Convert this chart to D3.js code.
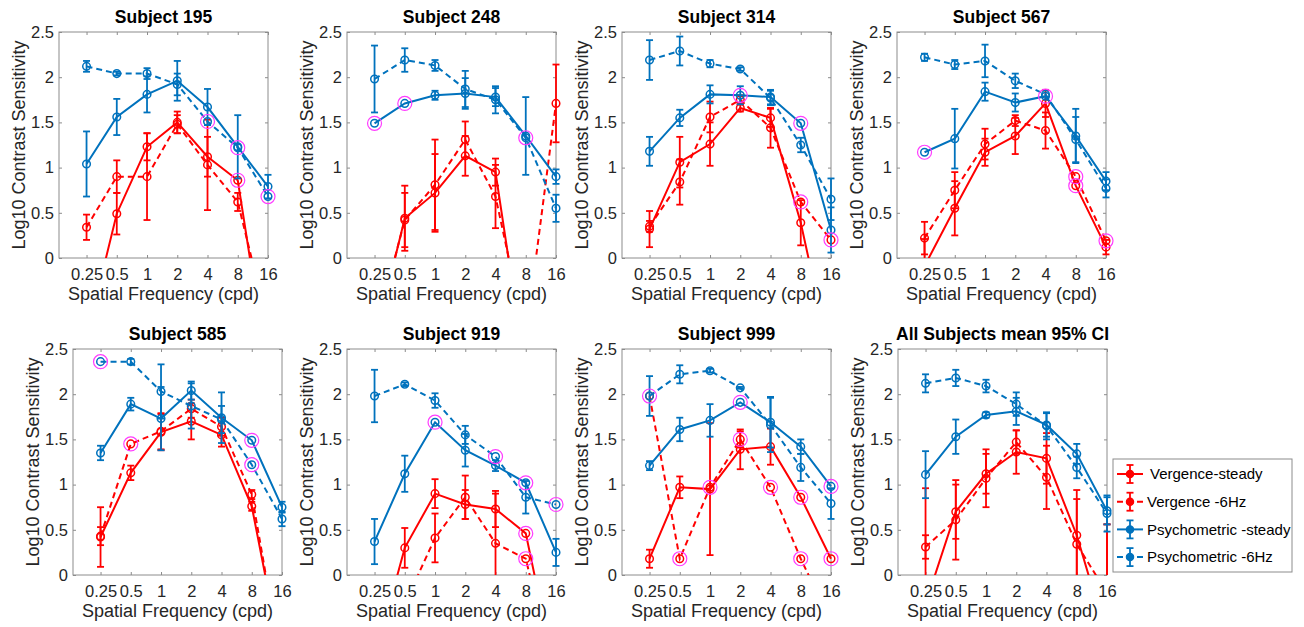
<!DOCTYPE html>
<html>
<head>
<meta charset="utf-8">
<script src="https://cdn.jsdelivr.net/npm/d3@7"></script>
<style>
  body { margin: 0; background: #fff; }
  svg { display: block; font-family: "Liberation Sans", Arial, sans-serif; }
</style>
</head>
<body>
<svg id="chart" width="1304" height="627"></svg>
<script>
// spatial frequencies (cpd) and panel titles
var freqs = [0.25, 0.5, 1, 2, 4, 8, 16];
var yTicks = [0, 0.5, 1, 1.5, 2, 2.5];
var titles = ["Subject 195", "Subject 248", "Subject 314", "Subject 567",
              "Subject 585", "Subject 919", "Subject 999", "All Subjects mean 95% CI"];
var seriesNames = ["Vergence-steady", "Vergence -6Hz", "Psychometric -steady", "Psychometric -6Hz"];

// one row per panel, one value per frequency
var vergSteady = [
  [-0.88, 0.49, 1.23, 1.50, 1.12, 0.86, -1.28],
  [-0.93, 0.44, 0.72, 1.13, 0.95, -1.27, -1.5],
  [0.32, 1.06, 1.26, 1.66, 1.55, 0.39, -1.14],
  [-0.09, 0.55, 1.17, 1.35, 1.71, 0.80, 0.12],
  [0.42, 1.13, 1.58, 1.70, 1.55, 0.76, -0.95],
  [-0.93, 0.30, 0.90, 0.78, 0.73, 0.46, -1.13],
  [0.18, 0.97, 0.95, 1.39, 1.42, 0.86, 0.18],
  [-0.32, 0.70, 1.12, 1.36, 1.29, 0.44, -0.69]
];
var vergSteadyErr = [
  [0.3, 0.23, 0.15, 0.12, 0.22, 0, 0.3],
  [0.3, 0.36, 0.43, 0.22, 0.15, 0.3, 0.3],
  [0.2, 0.28, 0.24, 0.04, 0.1, 0.25, 0.3],
  [0.3, 0.3, 0.15, 0.2, 0.15, 0, 0.08],
  [0.33, 0.08, 0.2, 0.2, 0.13, 0.05, 0.3],
  [0.3, 0.22, 0.16, 0.16, 0.2, 0, 0.3],
  [0.1, 0.12, 0.73, 0.22, 0.2, 0, 0],
  [1.28, 0.3, 0.22, 0.24, 0.28, 0.5, 1.25]
];
var verg6 = [
  [0.34, 0.90, 0.90, 1.48, 1.03, 0.62, -0.74],
  [-0.85, 0.42, 0.81, 1.31, 0.68, -0.87, 1.71],
  [0.35, 0.84, 1.56, 1.75, 1.44, 0.62, 0.20],
  [0.22, 0.75, 1.26, 1.52, 1.41, 0.90, 0.19],
  [0.43, 1.45, 1.59, 1.84, 1.64, 0.89, -1.02],
  [-0.8, -0.32, 0.41, 0.86, 0.35, 0.18, -1.2],
  [1.98, 0.18, 0.97, 1.50, 0.97, 0.18, -0.52],
  [0.31, 0.61, 1.07, 1.47, 1.08, 0.34, -0.20]
];
var verg6Err = [
  [0.14, 0.18, 0.48, 0.1, 0.5, 0.1, 0.3],
  [0.3, 0.3, 0.5, 0.2, 0.35, 0.3, 0.43],
  [0.06, 0.25, 0.17, 0.05, 0.22, 0, 0],
  [0.18, 0.2, 0.17, 0.06, 0.2, 0, 0],
  [0.1, 0, 0.2, 0.1, 0.1, 0.05, 0.3],
  [0.3, 0.3, 0.27, 0.24, 0.55, 0, 0.3],
  [0, 0, 0, 0.09, 0, 0, 0.3],
  [0.13, 0.44, 0.32, 0.13, 0.35, 0.5, 0.76]
];
var psySteady = [
  [1.04, 1.56, 1.81, 1.96, 1.67, 1.23, 0.79],
  [1.49, 1.71, 1.80, 1.82, 1.78, 1.35, 0.90],
  [1.18, 1.55, 1.81, 1.80, 1.78, 1.49, 0.31],
  [1.17, 1.32, 1.84, 1.72, 1.79, 1.35, 0.85],
  [1.35, 1.89, 1.73, 2.04, 1.74, 1.49, 0.75],
  [0.37, 1.12, 1.69, 1.38, 1.21, 1.02, 0.25],
  [1.21, 1.61, 1.71, 1.91, 1.69, 1.42, 0.98],
  [1.11, 1.53, 1.77, 1.81, 1.66, 1.34, 0.71]
];
var psySteadyErr = [
  [0.36, 0.2, 0.2, 0.22, 0.2, 0.35, 0.13],
  [0, 0, 0.05, 0.17, 0.1, 0.43, 0.08],
  [0.16, 0.09, 0.1, 0.1, 0.08, 0, 0.25],
  [0, 0.33, 0.1, 0.1, 0, 0.3, 0.1],
  [0.08, 0.07, 0.35, 0.1, 0.28, 0, 0.06],
  [0.25, 0.2, 0, 0.18, 0.06, 0, 0.15],
  [0.05, 0.13, 0.18, 0, 0.28, 0.08, 0],
  [0.26, 0.19, 0.03, 0.15, 0.13, 0.11, 0.15]
];
var psy6 = [
  [2.12, 2.04, 2.04, 1.92, 1.51, 1.22, 0.68],
  [1.98, 2.19, 2.13, 1.87, 1.75, 1.33, 0.55],
  [2.19, 2.29, 2.15, 2.09, 1.77, 1.25, 0.65],
  [2.22, 2.14, 2.18, 1.96, 1.81, 1.31, 0.77],
  [2.36, 2.36, 2.03, 1.87, 1.72, 1.22, 0.62],
  [1.98, 2.11, 1.93, 1.55, 1.31, 0.86, 0.78],
  [1.98, 2.22, 2.26, 2.07, 1.66, 1.19, 0.79],
  [2.12, 2.18, 2.09, 1.89, 1.65, 1.19, 0.68]
];
var psy6Err = [
  [0.06, 0.02, 0.06, 0.12, 0, 0, 0],
  [0.37, 0.13, 0.06, 0.2, 0.15, 0, 0.15],
  [0.22, 0.16, 0.04, 0.02, 0.08, 0.08, 0.23],
  [0.04, 0.05, 0.18, 0.08, 0, 0.25, 0.1],
  [0, 0.03, 0.3, 0.25, 0.15, 0, 0.08],
  [0.29, 0.02, 0.08, 0.1, 0, 0.18, 0],
  [0.22, 0.1, 0.02, 0.01, 0.3, 0.15, 0.17],
  [0.1, 0.09, 0.07, 0.13, 0.15, 0.12, 0.2]
];
// highlighted points: [panel, series, frequency index]
var circled = [
  [0, 3, 4], [0, 3, 5], [0, 3, 6], [0, 0, 5],
  [1, 2, 0], [1, 2, 1], [1, 3, 5],
  [2, 2, 3], [2, 2, 5], [2, 1, 5], [2, 1, 6],
  [3, 2, 0], [3, 2, 4], [3, 1, 5], [3, 0, 5], [3, 1, 6],
  [4, 3, 0], [4, 2, 5], [4, 3, 5], [4, 1, 1],
  [5, 2, 2], [5, 3, 4], [5, 2, 5], [5, 3, 6], [5, 0, 5], [5, 1, 5],
  [6, 3, 0], [6, 2, 3], [6, 2, 6], [6, 0, 5], [6, 0, 6],
  [6, 1, 1], [6, 1, 2], [6, 1, 3], [6, 1, 4], [6, 1, 5]
];

var values = [vergSteady, verg6, psySteady, psy6];
var errors = [vergSteadyErr, verg6Err, psySteadyErr, psy6Err];

// layout
var panelLeft = [59, 347, 622, 897, 73, 347, 622, 898];
var panelTop = [32, 32, 32, 32, 349, 349, 349, 349];
var W = 209, H = 226;
var styles = [
  { color: "#ff0000", dash: null },
  { color: "#ff0000", dash: "6,4" },
  { color: "#0072bd", dash: null },
  { color: "#0072bd", dash: "6,4" }
];
var frameColor = "#8c8c8c";
var textColor = "#262626";

var svg = d3.select("#chart");
svg.append("rect").attr("width", 1304).attr("height", 627).attr("fill", "#fff");

var x = d3.scaleLog().base(2).domain([0.133, 16]).range([0, W]);
var y = d3.scaleLinear().domain([0, 2.5]).range([H, 0]);

function errorBar(g, cx, lo, hi, color) {
  g.append("line").attr("x1", cx).attr("x2", cx).attr("y1", lo).attr("y2", hi)
    .attr("stroke", color).attr("stroke-width", 1.8);
  [lo, hi].forEach(function (yy) {
    g.append("line").attr("x1", cx - 3.5).attr("x2", cx + 3.5).attr("y1", yy).attr("y2", yy)
      .attr("stroke", color).attr("stroke-width", 1.8);
  });
}

titles.forEach(function (title, p) {
  var g = svg.append("g")
    .attr("transform", "translate(" + panelLeft[p] + "," + panelTop[p] + ")");

  // axes with inward ticks
  var gy = g.append("g").call(d3.axisLeft(y).tickValues(yTicks)
    .tickFormat(d3.format("~g")).tickSize(-3).tickPadding(5));
  var gx = g.append("g").attr("transform", "translate(0," + H + ")")
    .call(d3.axisBottom(x).tickValues(freqs).tickFormat(function (d) { return d; })
      .tickSize(-3).tickPadding(10));
  var gt = g.append("g").call(d3.axisTop(x).tickValues(freqs).tickFormat("").tickSize(-3));
  var gr = g.append("g").attr("transform", "translate(" + W + ",0)")
    .call(d3.axisRight(y).tickValues(yTicks).tickFormat("").tickSize(-3));
  [gx, gy, gt, gr].forEach(function (a) {
    a.select(".domain").remove();
    a.selectAll(".tick line").attr("stroke", frameColor);
    a.selectAll("text").attr("fill", textColor).style("font-size", "16.5px")
      .style("font-family", "'Liberation Sans', Arial, sans-serif");
  });
  g.append("rect").attr("width", W).attr("height", H)
    .attr("fill", "none").attr("stroke", frameColor).attr("stroke-width", 1);

  g.append("text").attr("x", W / 2).attr("y", -9).attr("text-anchor", "middle")
    .attr("font-weight", "bold").attr("font-size", "17.5px").attr("fill", "#000")
    .text(title);
  g.append("text").attr("x", W / 2).attr("y", H + 42).attr("text-anchor", "middle")
    .attr("font-size", "18px").attr("fill", textColor).text("Spatial Frequency (cpd)");
  g.append("text").attr("transform", "translate(-34," + (H / 2) + ") rotate(-90)")
    .attr("text-anchor", "middle").attr("font-size", "18px").attr("fill", textColor)
    .text("Log10 Contrast Sensitivity");

  // plot area, clipped vertically
  g.append("clipPath").attr("id", "clip" + p).append("rect")
    .attr("x", -12).attr("y", 0).attr("width", W + 24).attr("height", H);
  var plot = g.append("g").attr("clip-path", "url(#clip" + p + ")");

  var line = d3.line().x(function (d) { return x(d.f); }).y(function (d) { return y(d.v); });

  values.forEach(function (series, s) {
    var st = styles[s];
    var pts = freqs.map(function (f, i) {
      return { f: f, v: series[p][i], e: errors[s][p][i] };
    });
    var sg = plot.append("g");
    sg.append("path").datum(pts).attr("d", line).attr("fill", "none")
      .attr("stroke", st.color).attr("stroke-width", 2)
      .attr("stroke-dasharray", st.dash);
    pts.forEach(function (d) {
      if (d.e > 0) errorBar(sg, x(d.f), y(d.v - d.e), y(d.v + d.e), st.color);
    });
    sg.selectAll("circle").data(pts.filter(function (d) { return d.v >= 0; }))
      .join("circle")
      .attr("cx", function (d) { return x(d.f); })
      .attr("cy", function (d) { return y(d.v); })
      .attr("r", 3.8).attr("fill", "none")
      .attr("stroke", st.color).attr("stroke-width", 1.5);
  });

  circled.filter(function (c) { return c[0] === p; }).forEach(function (c) {
    plot.append("circle")
      .attr("cx", x(freqs[c[2]]))
      .attr("cy", y(values[c[1]][p][c[2]]))
      .attr("r", 7).attr("fill", "none")
      .attr("stroke", "#ff3cff").attr("stroke-width", 1.2);
  });
});

// legend
var lg = svg.append("g").attr("transform", "translate(1113,459)");
lg.append("rect").attr("width", 179).attr("height", 113)
  .attr("fill", "#fff").attr("stroke", frameColor).attr("stroke-width", 1);
seriesNames.forEach(function (name, i) {
  var st = styles[i];
  var ly = 15 + i * 27.7;
  lg.append("line").attr("x1", 4).attr("x2", 30).attr("y1", ly).attr("y2", ly)
    .attr("stroke", st.color).attr("stroke-width", 2).attr("stroke-dasharray", st.dash);
  errorBar(lg, 17, ly - 9, ly + 9, st.color);
  lg.append("circle").attr("cx", 17).attr("cy", ly).attr("r", 3.5)
    .attr("fill", st.color).attr("stroke", st.color).attr("stroke-width", 1.5);
  lg.append("text").attr("x", i === 0 ? 37 : 34).attr("y", ly).attr("dy", "0.35em")
    .attr("font-size", "15px").attr("fill", "#000").text(name);
});
</script>
</body>
</html>
